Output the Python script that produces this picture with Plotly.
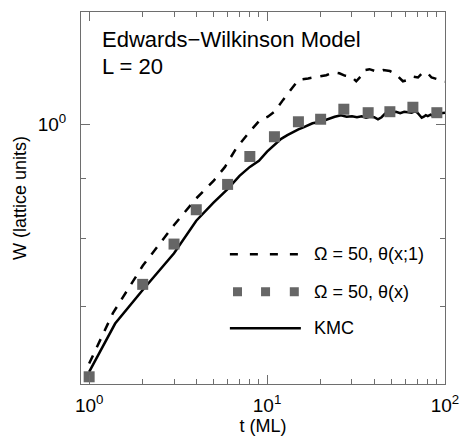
import plotly.graph_objects as go

# KMC (solid)
kmc_t = [1, 1.4, 2, 3, 4, 5, 6, 7, 8, 9, 10, 11, 12, 13, 14, 15, 16, 17, 18, 20,
         22, 24, 26, 28, 30, 32, 34, 36, 38, 40, 42, 44, 46, 48, 50, 53, 56, 59,
         62, 65, 68, 70, 72, 74, 76, 78, 80, 83, 86, 89, 92, 95, 100]
kmc_w = [0.616, 0.677, 0.723, 0.777, 0.828, 0.858, 0.881, 0.904, 0.920, 0.931,
         0.948, 0.961, 0.972, 0.979, 0.985, 0.990, 0.994, 0.998, 1.002, 1.005,
         1.011, 1.015, 1.018, 1.015, 1.016, 1.014, 1.016, 1.013, 1.015, 1.014,
         1.010, 1.014, 1.021, 1.022, 1.024, 1.025, 1.022, 1.025, 1.024, 1.023,
         1.026, 1.023, 1.018, 1.013, 1.015, 1.018, 1.016, 1.019, 1.016, 1.020,
         1.018, 1.022, 1.023]

# Omega = 50, theta(x;1) (dashed)
dash_t = [1, 1.36, 2, 2.66, 3, 4, 5, 5.8, 6.7, 8, 9.1, 10.1, 11, 12.3, 13.7, 15,
          17, 19.3, 21.5, 23.5, 25.5, 27.3, 29.7, 31.7, 33.9, 35.3, 37.6, 42, 45,
          49, 52, 54.6, 58, 62, 66, 70.5, 75, 80, 84, 89.5, 95, 100]
dash_w = [0.626, 0.691, 0.758, 0.802, 0.821, 0.865, 0.895, 0.920, 0.954, 0.986,
          1.008, 1.015, 1.025, 1.049, 1.073, 1.091, 1.094, 1.098, 1.101, 1.107,
          1.105, 1.100, 1.098, 1.088, 1.100, 1.112, 1.114, 1.108, 1.112, 1.110,
          1.105, 1.098, 1.088, 1.091, 1.098, 1.096, 1.107, 1.105, 1.096, 1.093,
          1.088, 1.087]

# Omega = 50, theta(x) (squares)
sq_t = [1, 2, 3, 4, 6, 8, 11, 15, 20, 27, 37, 49, 66, 90]
sq_w = [0.610, 0.731, 0.791, 0.846, 0.889, 0.939, 0.976, 1.005, 1.010, 1.030,
        1.023, 1.025, 1.034, 1.023]

x_major = [1, 10, 100]
x_major_text = ["10<sup>0</sup>", "10<sup>1</sup>", "10<sup>2</sup>"]
x_minor = [2, 3, 4, 5, 6, 7, 8, 9, 20, 30, 40, 50, 60, 70, 80, 90]
y_major = [1]
y_major_text = ["10<sup>0</sup>"]
y_minor = [0.7, 0.8, 0.9]

legend_labels = ["\u03a9 = 50, \u03b8(x;1)", "\u03a9 = 50, \u03b8(x)", "KMC"]

FONT = "Liberation Sans, Arial, Helvetica, sans-serif"
AX = "#6e6e6e"
SQ = "#666666"

fig = go.Figure()
fig.add_trace(go.Scatter(x=dash_t, y=dash_w, mode="lines",
                         line=dict(color="black", width=2.5, dash="9px,9px"),
                         showlegend=False))
fig.add_trace(go.Scatter(x=kmc_t, y=kmc_w, mode="lines",
                         line=dict(color="black", width=2.5),
                         showlegend=False))
fig.add_trace(go.Scatter(x=sq_t, y=sq_w, mode="markers",
                         marker=dict(symbol="square", size=11, color=SQ),
                         showlegend=False))

axis_common = dict(showline=True, linecolor=AX, linewidth=1, mirror="ticks",
                   ticks="inside", tickcolor=AX, tickwidth=1, ticklen=9,
                   showgrid=False, zeroline=False, automargin=False,
                   tickfont=dict(family=FONT, size=19, color="black"))

fig.update_xaxes(type="log", range=[-0.0458, 2.0], tickmode="array",
                 tickvals=x_major, ticktext=x_major_text, ticklabelstandoff=4,
                 minor=dict(tickmode="array", tickvals=x_minor, ticks="inside",
                            ticklen=5, tickcolor=AX, tickwidth=1, showgrid=False),
                 title=dict(text="t (ML)", standoff=2,
                            font=dict(family=FONT, size=18, color="black")),
                 **axis_common)
fig.update_yaxes(type="log", range=[-0.2208, 0.0955], tickmode="array",
                 tickvals=y_major, ticktext=y_major_text, ticklabelstandoff=10,
                 minor=dict(tickmode="array", tickvals=y_minor, ticks="inside",
                            ticklen=5, tickcolor=AX, tickwidth=1, showgrid=False),
                 title=dict(text="W (lattice units)", standoff=6,
                            font=dict(family=FONT, size=18, color="black")),
                 **axis_common)

# annotations (title text)
fig.add_annotation(x=0.052, y=0.926, xref="paper", yref="paper", xanchor="left",
                   yanchor="middle", showarrow=False, text="Edwards\u2212Wilkinson Model",
                   font=dict(family=FONT, size=22, color="black"))
fig.add_annotation(x=0.052, y=0.853, xref="paper", yref="paper", xanchor="left",
                   yanchor="middle", showarrow=False, text="L = 20",
                   font=dict(family=FONT, size=22, color="black"))

# manual legend
leg_y = [0.349, 0.248, 0.150]
lx0, lx1 = 0.409, 0.604
fig.add_shape(type="line", xref="paper", yref="paper", x0=lx0, x1=lx1,
              y0=leg_y[0], y1=leg_y[0], line=dict(color="black", width=2.5, dash="8px,12px"))
for sx in [0.430, 0.507, 0.586]:
    fig.add_shape(type="rect", xref="paper", yref="paper", xsizemode="pixel",
                  ysizemode="pixel", xanchor=sx, yanchor=leg_y[1], x0=-4.5, x1=4.5,
                  y0=-4.5, y1=4.5, fillcolor=SQ, line=dict(width=0))
fig.add_shape(type="line", xref="paper", yref="paper", x0=lx0, x1=lx1,
              y0=leg_y[2], y1=leg_y[2], line=dict(color="black", width=2.5))
for lab, yy in zip(legend_labels, leg_y):
    fig.add_annotation(x=0.634, y=yy, xref="paper", yref="paper", xanchor="left",
                       yanchor="middle", showarrow=False, text=lab,
                       font=dict(family=FONT, size=18, color="black"))

fig.update_layout(width=461, height=439,
                  margin=dict(l=81, r=16, t=12, b=55),
                  plot_bgcolor="white", paper_bgcolor="white",
                  showlegend=False)

fig.write_html("out.html", config={"displayModeBar": False},
               post_script="document.body.style.margin='0';document.body.style.overflow='hidden';")
